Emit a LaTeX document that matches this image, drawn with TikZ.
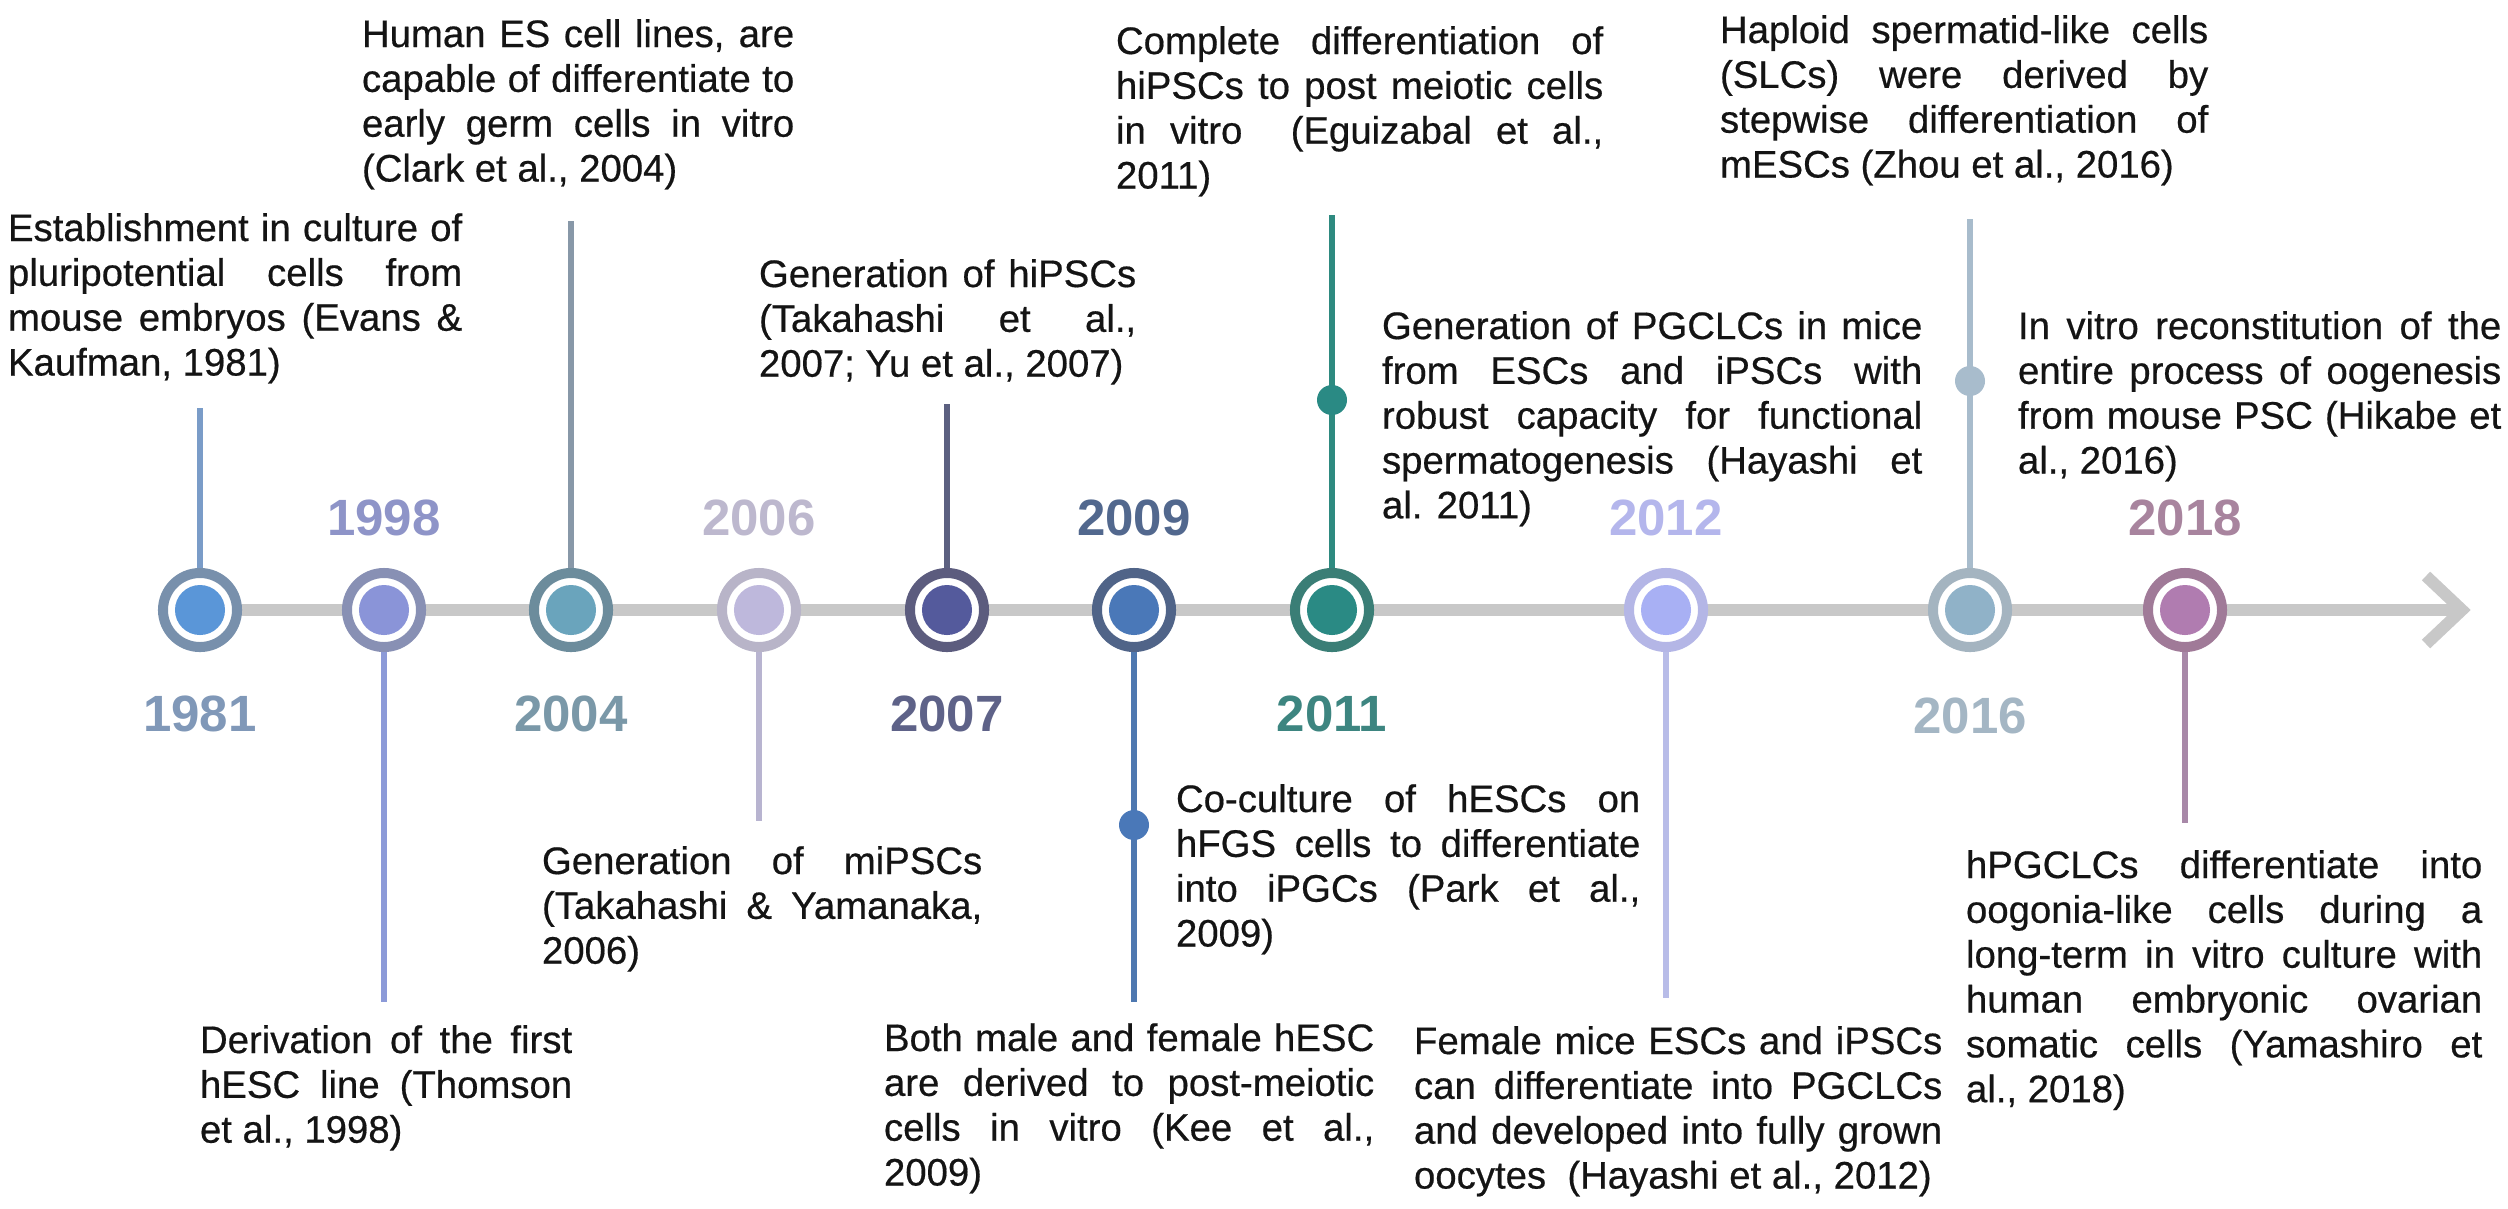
\documentclass[tikz,border=0pt]{standalone}
\usepackage{fontspec}
\setmainfont{Liberation Sans}
\newfontfamily\bodyfont{Liberation Sans}[FakeBold=0.5]
\usetikzlibrary{calc}
\definecolor{axisgrey}{HTML}{C8C8C8}
% disk fills
\definecolor{fA}{HTML}{5A96D8}\definecolor{fB}{HTML}{8A94D8}\definecolor{fC}{HTML}{6AA4BC}
\definecolor{fD}{HTML}{BEB8DC}\definecolor{fE}{HTML}{545A9C}\definecolor{fF}{HTML}{4A78B8}
\definecolor{fG}{HTML}{2A8A84}\definecolor{fH}{HTML}{A8B0F4}\definecolor{fI}{HTML}{90B2C8}
\definecolor{fJ}{HTML}{B07CB0}
% rings
\definecolor{rA}{HTML}{7890AC}\definecolor{rB}{HTML}{8890B4}\definecolor{rC}{HTML}{6C8C9C}
\definecolor{rD}{HTML}{B8B4C8}\definecolor{rE}{HTML}{5C5C7E}\definecolor{rF}{HTML}{506488}
\definecolor{rG}{HTML}{3A7E76}\definecolor{rH}{HTML}{B4B6E6}\definecolor{rI}{HTML}{A4B4C0}
\definecolor{rJ}{HTML}{A07A98}
% year labels
\definecolor{yA}{HTML}{8098B8}\definecolor{yB}{HTML}{8E94C8}\definecolor{yC}{HTML}{7A98A8}
\definecolor{yD}{HTML}{BDB8CE}\definecolor{yE}{HTML}{5E6288}\definecolor{yF}{HTML}{52688E}
\definecolor{yG}{HTML}{3D8580}\definecolor{yH}{HTML}{B4B6EC}\definecolor{yI}{HTML}{A4B6C4}
\definecolor{yJ}{HTML}{A8849E}
% stems
\definecolor{sA}{HTML}{7A9CC8}\definecolor{sB}{HTML}{8C9AD8}\definecolor{sC}{HTML}{8898A8}
\definecolor{sD}{HTML}{B8B4D0}\definecolor{sE}{HTML}{5C6080}\definecolor{sF}{HTML}{4E78B0}
\definecolor{sG}{HTML}{2E8A80}\definecolor{sH}{HTML}{B8BCE8}\definecolor{sI}{HTML}{A8BCCC}
\definecolor{sJ}{HTML}{A888A8}
\definecolor{ink}{HTML}{141414}
\begin{document}
\begin{tikzpicture}[x=0.01cm,y=-0.01cm,
  txt/.style={anchor=base west, inner sep=0pt, outer sep=0pt, align=justify, text=ink,
     font={\bodyfont\fontsize{10.9}{12.75}\selectfont\hyphenpenalty=10000\relax\exhyphenpenalty=10000\relax\tolerance=10000\relax}},
  yr/.style={font=\fontsize{14.5}{16}\selectfont\bfseries, inner sep=0pt, text=#1},
  ev/.style 2 args={circle, draw=#2, line width=2.85pt, fill=white, minimum size=0.74cm, inner sep=0pt,
     path picture={\fill[#1] (path picture bounding box.center) circle (0.25cm);}},
  stem/.style={line width=1.45pt, draw=#1},
  knot/.style={circle, fill=#1, minimum size=0.3cm, inner sep=0pt},
  axis/.style={line width=3.4pt, draw=axisgrey}
]
\useasboundingbox (0,0) rectangle (2508,1208);
\fill[white] (0,0) rectangle (2508,1208);

% axis
\coordinate (axL) at (200,610);
\coordinate (axR) at (2462,610);
\coordinate (axU) at ($(axR)+(-36,-34)$);
\coordinate (axD) at ($(axR)+(-36,34)$);
\draw[axis] (axL) -- (axR);
\draw[axis] (axU) -- (axR) -- (axD);

% events
\node[ev={fA}{rA}] (e1981) at (200,610) {};
\node[ev={fB}{rB}] (e1998) at (384,610) {};
\node[ev={fC}{rC}] (e2004) at (571,610) {};
\node[ev={fD}{rD}] (e2006) at (759,610) {};
\node[ev={fE}{rE}] (e2007) at (947,610) {};
\node[ev={fF}{rF}] (e2009) at (1134,610) {};
\node[ev={fG}{rG}] (e2011) at (1332,610) {};
\node[ev={fH}{rH}] (e2012) at (1666,610) {};
\node[ev={fI}{rI}] (e2016) at (1970,610) {};
\node[ev={fJ}{rJ}] (e2018) at (2185,610) {};

% stem ends
\coordinate (s1981) at (200,408);
\coordinate (s1998) at (384,1002);
\coordinate (s2004) at (571,221);
\coordinate (s2006) at (759,821);
\coordinate (s2007) at (947,404);
\coordinate (s2009) at (1134,1002);
\coordinate (s2011) at (1332,215);
\coordinate (s2012) at (1666,998);
\coordinate (s2016) at (1970,219);
\coordinate (s2018) at (2185,823);

\draw[stem=sA] (e1981.north) -- (s1981);
\draw[stem=sB] (e1998.south) -- (s1998);
\draw[stem=sC] (e2004.north) -- (s2004);
\draw[stem=sD] (e2006.south) -- (s2006);
\draw[stem=sE] (e2007.north) -- (s2007);
\draw[stem=sF] (e2009.south) -- (s2009);
\draw[stem=sG] (e2011.north) -- (s2011);
\draw[stem=sH] (e2012.south) -- (s2012);
\draw[stem=sI] (e2016.north) -- (s2016);
\draw[stem=sJ] (e2018.south) -- (s2018);

% knots on stems
\node[knot=fF] (k2009) at (1134,825) {};
\node[knot=fG] (k2011) at (1332,400) {};
\node[knot=sI] (k2016) at (1970,381) {};

% year labels
\node[yr=yA] (l1981) at (200,714) {1981};
\node[yr=yB] (l1998) at (384,518) {1998};
\node[yr=yC] (l2004) at (571,714) {2004};
\node[yr=yD] (l2006) at (759,518) {2006};
\node[yr=yE] (l2007) at (947,714) {2007};
\node[yr=yF] (l2009) at (1134,518) {2009};
\node[yr=yG] (l2011) at (1332,714) {2011};
\node[yr=yH] (l2012) at (1666,518) {2012};
\node[yr=yI] (l2016) at (1970,716) {2016};
\node[yr=yJ] (l2018) at (2185,518) {2018};

% texts above
\node[txt, text width=4.54cm] (t1981) at (8,241) {Establishment in culture of\linebreak pluripotential cells from\linebreak mouse embryos (Evans \&\linebreak Kaufman, 1981)};
\node[txt, text width=4.32cm] (t2004) at (362,47) {Human ES cell lines, are\linebreak capable of differentiate to\linebreak early germ cells in vitro\linebreak (Clark et al., 2004)};
\node[txt, text width=3.77cm] (t2007) at (759,287) {Generation of hiPSCs\linebreak (Takahashi et al.,\linebreak 2007; Yu et al., 2007)};
\node[txt, text width=4.87cm] (t2011a) at (1116,54) {Complete differentiation of\linebreak hiPSCs to post meiotic cells\linebreak in vitro\ \ (Eguizabal et al.,\linebreak 2011)};
\node[txt, text width=5.40cm] (t2011b) at (1382,339) {Generation of PGCLCs in mice\linebreak from ESCs and iPSCs with\linebreak robust capacity for functional\linebreak spermatogenesis (Hayashi et\linebreak al. 2011)};
\node[txt, text width=4.88cm] (t2016a) at (1720,43) {Haploid spermatid-like cells\linebreak (SLCs) were derived by\linebreak stepwise differentiation of\linebreak mESCs (Zhou et al., 2016)};
\node[txt, text width=4.83cm] (t2016b) at (2018,339) {In vitro reconstitution of the\linebreak entire process of oogenesis\linebreak from mouse PSC (Hikabe et\linebreak al., 2016)};

% texts below
\node[txt, text width=3.72cm] (t1998) at (200,1053) {Derivation of the first\linebreak hESC line (Thomson\linebreak et al., 1998)};
\node[txt, text width=4.40cm] (t2006) at (542,874) {Generation of miPSCs\linebreak (Takahashi \& Yamanaka,\linebreak 2006)};
\node[txt, text width=4.64cm] (t2009a) at (1176,812) {Co-culture of hESCs on\linebreak hFGS cells to differentiate\linebreak into iPGCs (Park et al.,\linebreak 2009)};
\node[txt, text width=4.90cm] (t2009b) at (884,1051) {Both male and female hESC\linebreak are derived to post-meiotic\linebreak cells in vitro (Kee et al.,\linebreak 2009)};
\node[txt, text width=5.28cm] (t2012) at (1414,1054) {Female mice ESCs and iPSCs\linebreak can differentiate into PGCLCs\linebreak and developed into fully grown\linebreak oocytes\ \ (Hayashi et al., 2012)};
\node[txt, text width=5.16cm] (t2018) at (1966,878) {hPGCLCs differentiate into\linebreak oogonia-like cells during a\linebreak long-term in vitro culture with\linebreak human embryonic ovarian\linebreak somatic cells (Yamashiro et\linebreak al., 2018)};
\end{tikzpicture}
\end{document}
